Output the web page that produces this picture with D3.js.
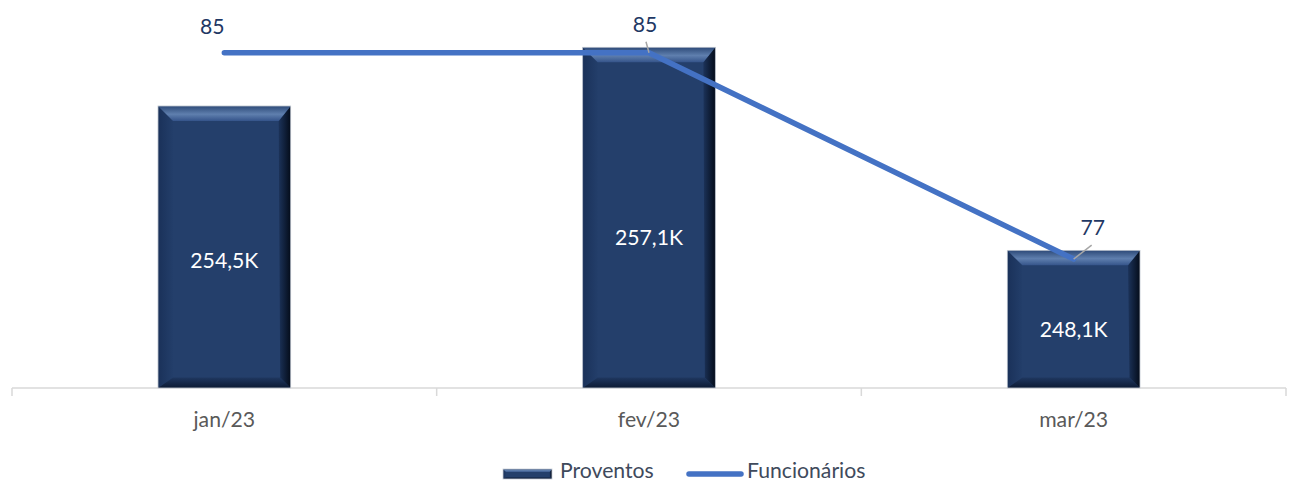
<!DOCTYPE html>
<html>
<head>
<meta charset="utf-8">
<script src="https://cdn.jsdelivr.net/npm/d3@7"></script>
<style>
  html, body { margin: 0; padding: 0; background: #ffffff; }
  svg { display: block; font-family: Lato, "Open Sans", sans-serif; }
</style>
</head>
<body>
<svg id="chart" width="1289" height="482"></svg>
<script>
// ---- data ----
const categories = ["jan/23", "fev/23", "mar/23"];
const proventos = [254.5, 257.1, 248.1];      // thousands
const funcionarios = [85, 85, 77];
const proventosDomain = [242, 258];
const funcionariosDomain = [72, 86];
const legendLabels = ["Proventos", "Funcionários"];

// ---- layout ----
const W = 1289, H = 482;
const plot = { left: 12, right: 1286, top: 27, bottom: 388 };
const barFrac = 0.3125;
const barLabelDy = [21, 27, 18];          // baseline offset from bar middle
const lineLabelOffsets = [[-12, -19, false], [-4, -21, true], [19, -24, true]];
const fontSize = 21.2;

const svg = d3.select("#chart");
const defs = svg.append("defs");

const x = d3.scaleBand().domain(categories).range([plot.left, plot.right]).padding(0);
const yBar = d3.scaleLinear().domain(proventosDomain).range([plot.bottom, plot.top]);
const yLine = d3.scaleLinear().domain(funcionariosDomain).range([plot.bottom, plot.top]);
const fmt = d3.formatLocale({ decimal: ",", thousands: ".", grouping: [3], currency: ["", ""] }).format(".1f");

// gradients for bevel
function grad(id, x1, y1, x2, y2, stops) {
  const g = defs.append("linearGradient").attr("id", id)
    .attr("x1", x1).attr("y1", y1).attr("x2", x2).attr("y2", y2);
  stops.forEach(s => g.append("stop").attr("offset", s[0]).attr("stop-color", s[1]));
}
grad("gTop", 0, 0, 0, 1, [[0, "#2d4a78"], [0.55, "#5f7fae"], [1, "#35548a"]]);
grad("gRight", 0, 0, 1, 0, [[0, "#1c335a"], [1, "#040c1a"]]);
grad("gBottom", 0, 0, 0, 1, [[0, "#1f3760"], [1, "#0c1a33"]]);
grad("gLeft", 0, 0, 1, 0, [[0, "#1a3159"], [1, "#233e6a"]]);

function bevelBar(g, x0, y0, w, h, b) {
  const x1 = x0 + w, y1 = y0 + h;
  g.append("rect").attr("x", x0).attr("y", y0).attr("width", w).attr("height", h).attr("fill", "#243f6b");
  const poly = (pts, fill) => g.append("polygon").attr("points", pts.map(p => p.join(",")).join(" ")).attr("fill", fill);
  poly([[x0, y0], [x0 + b, y0 + b], [x0 + b, y1 - b * 0.7], [x0, y1]], "url(#gLeft)");
  poly([[x0, y1], [x1, y1], [x1 - b * 0.7, y1 - b * 0.7], [x0 + b, y1 - b * 0.7]], "url(#gBottom)");
  poly([[x1, y0], [x1, y1], [x1 - b * 0.7, y1 - b * 0.7], [x1 - b * 0.8, y0 + b]], "url(#gRight)");
  poly([[x0, y0], [x1, y0], [x1 - b * 0.8, y0 + b], [x0 + b, y0 + b]], "url(#gTop)");
  g.append("rect").attr("x", x0).attr("y", y0).attr("width", w).attr("height", h)
    .attr("fill", "none").attr("stroke", "#c9ced6").attr("stroke-width", 0.8);
}

// axis line + ticks
const axisG = svg.append("g");
axisG.append("line").attr("x1", plot.left).attr("x2", plot.right)
  .attr("y1", plot.bottom).attr("y2", plot.bottom).attr("stroke", "#d9d9d9").attr("stroke-width", 1.5);
const edges = categories.map(c => x(c)).concat([x(categories[categories.length - 1]) + x.bandwidth()]);
axisG.selectAll("line.tick").data(edges).join("line").attr("class", "tick")
  .attr("x1", d => d).attr("x2", d => d).attr("y1", plot.bottom).attr("y2", plot.bottom + 8)
  .attr("stroke", "#d9d9d9").attr("stroke-width", 1.5);

const xAxis = d3.axisBottom(x).tickSize(0).tickPadding(24);
const xa = svg.append("g").attr("transform", `translate(0,${plot.bottom})`).call(xAxis);
xa.select(".domain").remove();
xa.selectAll("text").attr("font-size", fontSize).attr("fill", "#595959").attr("font-family", "Lato, 'Open Sans', sans-serif");

// bars
const bw = x.bandwidth() * barFrac;
const barsG = svg.append("g");
categories.forEach((c, i) => {
  const cx = x(c) + x.bandwidth() / 2;
  const top = yBar(proventos[i]);
  bevelBar(barsG.append("g"), cx - bw / 2, top, bw, plot.bottom - top, 15);
});
// bar labels
svg.append("g").selectAll("text").data(proventos).join("text")
  .attr("x", (d, i) => x(categories[i]) + x.bandwidth() / 2)
  .attr("y", (d, i) => (yBar(d) + plot.bottom) / 2 + barLabelDy[i])
  .attr("text-anchor", "middle").attr("fill", "#ffffff").attr("font-size", fontSize)
  .text(d => fmt(d) + "K");

// line
const pts = funcionarios.map((v, i) => [x(categories[i]) + x.bandwidth() / 2, yLine(v)]);
svg.append("path").attr("d", d3.line()(pts)).attr("fill", "none")
  .attr("stroke", "#4472c4").attr("stroke-width", 5.5).attr("stroke-linecap", "round").attr("stroke-linejoin", "round");

// line labels + leaders
const llG = svg.append("g");
funcionarios.forEach((v, i) => {
  const [px, py] = pts[i];
  const [dx, dy, leader] = lineLabelOffsets[i];
  if (leader) {
    llG.append("line").attr("x1", px).attr("y1", py)
      .attr("x2", px + dx + (dx > 0 ? -1 : 1)).attr("y2", py + dy + 10)
      .attr("stroke", "#a6a6a6").attr("stroke-width", 1.5);
  }
  llG.append("text").attr("x", px + dx).attr("y", py + dy).attr("text-anchor", "middle")
    .attr("fill", "#1f3864").attr("font-size", fontSize).text(v);
});

// legend
const lg = svg.append("g");
bevelBar(lg.append("g"), 503, 469, 49, 10, 3);
lg.append("text").attr("x", 560).attr("y", 478).attr("fill", "#404a5c").attr("font-size", fontSize).text(legendLabels[0]);
lg.append("line").attr("x1", 689).attr("x2", 741).attr("y1", 474).attr("y2", 474)
  .attr("stroke", "#4472c4").attr("stroke-width", 5.5).attr("stroke-linecap", "round");
lg.append("text").attr("x", 747).attr("y", 478).attr("fill", "#404a5c").attr("font-size", fontSize).text(legendLabels[1]);
</script>
</body>
</html>
